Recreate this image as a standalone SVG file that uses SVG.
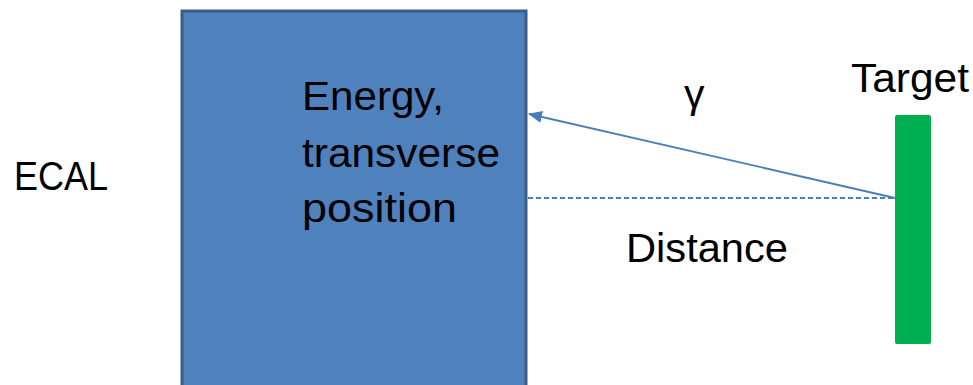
<svg xmlns="http://www.w3.org/2000/svg" width="973" height="385" viewBox="0 0 973 385">
  <defs>
    <style>
      .lbl { font-family: "Liberation Sans", Arial, sans-serif; font-size: 41px; fill: #000; }
      .ray { stroke: #4A7EBB; stroke-width: 1.8; fill: none; }
    </style>
    <marker id="head" viewBox="0 0 14 12" refX="13" refY="6" markerWidth="14" markerHeight="12" markerUnits="userSpaceOnUse" orient="auto">
      <path d="M0,0 L14,6 L0,12 z" fill="#4A7EBB"/>
    </marker>
  </defs>

  <rect width="973" height="385" fill="#ffffff"/>

  <!-- calorimeter block -->
  <g id="ecal-block">
    <rect x="182" y="11" width="344" height="380" fill="#4F81BD" stroke="#385D8A" stroke-width="3"/>
    <text class="lbl" x="302" y="110" textLength="142" lengthAdjust="spacingAndGlyphs">Energy,</text>
    <text class="lbl" x="302" y="167" textLength="198" lengthAdjust="spacingAndGlyphs">transverse</text>
    <text class="lbl" x="302" y="222" textLength="155" lengthAdjust="spacingAndGlyphs">position</text>
  </g>

  <g id="ecal-label">
    <text class="lbl" x="14" y="190" textLength="94" lengthAdjust="spacingAndGlyphs">ECAL</text>
  </g>

  <!-- target bar -->
  <g id="target">
    <rect x="895" y="115" width="36" height="229" rx="2" fill="#00B050"/>
    <text class="lbl" x="851" y="92" textLength="118" lengthAdjust="spacingAndGlyphs">Target</text>
  </g>

  <!-- photon ray and distance line -->
  <g id="connectors">
    <line class="ray" x1="895" y1="198" x2="529" y2="114" marker-end="url(#head)"/>
    <line class="ray" x1="528" y1="198" x2="895" y2="198" stroke-dasharray="5,3"/>
  </g>

  <g id="labels">
    <text class="lbl" x="684" y="108">γ</text>
    <text class="lbl" x="626" y="262" textLength="162" lengthAdjust="spacingAndGlyphs">Distance</text>
  </g>
</svg>
